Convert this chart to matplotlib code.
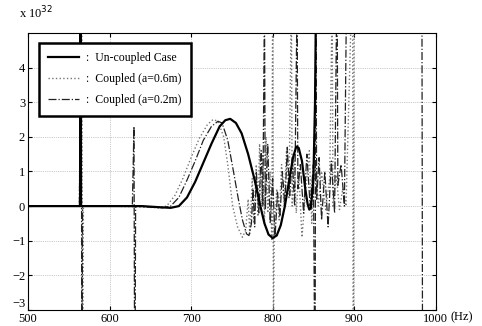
import matplotlib
matplotlib.use('Agg')
import matplotlib.pyplot as plt

plt.rcParams['font.family'] = ['Liberation Serif', 'DejaVu Serif']

# frequency (Hz) and response (x 1e32)
f_unc = [500, 560, 564, 564.5, 565, 600, 640, 660, 675, 685, 695, 705, 715, 725,
         735, 742, 748, 755, 762, 770, 778, 785, 790, 795, 800, 805, 810, 815,
         820, 825, 829, 832, 836, 840, 843, 845, 847, 850, 852, 854, 1000]
y_unc = [0, 0, 0, 7, 0, 0, 0, -0.03, -0.05, 0.0, 0.25, 0.7, 1.25, 1.8,
         2.3, 2.48, 2.52, 2.4, 2.1, 1.5, 0.75, 0.0, -0.5, -0.82, -0.92, -0.85, -0.55, 0.0,
         0.7, 1.4, 1.72, 1.68, 1.3, 0.5, 0.05, -0.1, -0.05, 0.8, 3, 8, 8]

f_a06 = [500, 563, 566, 567, 568, 600, 645, 660, 670, 680, 690, 700, 710, 720,
         727, 733, 740, 745, 751, 757, 763, 767, 770, 772, 775, 777, 780, 782,
         784, 786, 788, 790, 792, 794, 797, 799, 800, 801, 802, 805, 808, 811,
         814, 817, 820, 823, 824, 826, 829, 832, 836, 840, 845, 848, 852, 856,
         860, 865, 870, 873, 874, 878, 882, 886, 890, 898, 899, 900, 1000]
y_a06 = [0, 0, 7, -7, 0, 0, -0.03, -0.05, 0.0, 0.3, 0.8, 1.4, 1.95, 2.35,
         2.5, 2.45, 2.0, 1.2, 0.0, -0.6, -0.9, -0.7, 0.2, -0.8, 0.8, -0.5, 1.2, -0.3,
         1.8, 0.0, 1.5, -0.5, 2.0, -0.2, 1.0, -1.0, 6, -4, -0.8, 0.5, -0.4, 1.2,
         0.0, 1.6, 0.2, 6, 0.0, 1.5, -0.2, 1.0, -0.9, 0.3, 1.6, -0.5, 1.3, 0.0,
         1.0, -0.1, 0.8, 6, 0.0, 0.9, -0.1, 0.5, 0.0, 7, -7, 8, 8]

f_a02 = [500, 563, 565.5, 566, 567, 600, 628, 630, 631, 632, 650, 665, 675, 685,
         695, 705, 715, 725, 733, 738, 745, 752, 758, 763, 768, 771, 774, 776,
         778, 780, 783, 786, 788, 790, 791, 794, 797, 800, 803, 806, 809, 812,
         815, 818, 821, 824, 827, 830, 831, 834, 838, 842, 846, 850, 852, 853,
         854, 857, 860, 864, 868, 872, 876, 879, 880, 884, 888, 891, 983, 984, 1000]
y_a02 = [0, 0, 7, -7, 0, 0, 0, 2.3, -7, 0, -0.03, -0.05, 0.0, 0.25,
         0.75, 1.3, 1.9, 2.3, 2.45, 2.4, 1.9, 1.0, 0.2, -0.4, -0.8, -0.85, -0.5, 0.5,
         -0.6, 1.0, -0.2, 1.6, 0.0, 6, -0.1, 1.8, -0.5, 0.8, -0.9, 0.4, -0.3, 1.0,
         0.0, 1.7, 0.3, 1.4, 0.0, 6, 0.5, 1.2, -0.2, 1.5, 0.0, 1.2, -6, 7,
         0.2, 1.4, -0.4, 1.0, -0.6, 1.3, -0.2, 7, 0.6, 1.2, 0.0, 7, 7, -7, -7]

labels = [':  Un-coupled Case', ':  Coupled (a=0.6m)', ':  Coupled (a=0.2m)']
x_ticks = [500, 600, 700, 800, 900, 1000]
y_ticks = [-3, -2, -1, 0, 1, 2, 3, 4]

fig = plt.figure(figsize=(4.82, 3.26), dpi=100)
ax = fig.add_axes([0.058, 0.049, 0.846, 0.85])

ax.plot(f_a06, y_a06, color='#777777', linestyle=':', linewidth=1.0, label=labels[1])
ax.plot(f_a02, y_a02, color='#222222', linestyle='-.', linewidth=0.9, label=labels[2])
ax.plot(f_unc, y_unc, color='black', linestyle='-', linewidth=1.6, label=labels[0])

ax.set_xlim(500, 1000)
ax.set_ylim(-3, 5)
ax.set_xticks(x_ticks)
ax.set_yticks(y_ticks)
ax.tick_params(direction='in', labelsize=9, length=3, top=True, right=True, pad=2)
ax.grid(True, linestyle=':', color='#999999', linewidth=0.5)
for s in ax.spines.values():
    s.set_linewidth(0.8)
# the -3 label sits a little above its tick, clear of the 500 below
ax.get_yticklabels()[0].set_verticalalignment('bottom')

handles, labs = ax.get_legend_handles_labels()
order = [2, 0, 1]
leg = ax.legend([handles[i] for i in order], [labs[i] for i in order],
                loc='upper left', bbox_to_anchor=(0.012, 0.985), fontsize=8.5,
                handlelength=2.6, handletextpad=0.6, fancybox=False, framealpha=1,
                edgecolor='black', borderpad=0.8, labelspacing=0.75)
leg.get_frame().set_linewidth(1.8)

fig.text(0.04, 0.945, r'x 10$^{32}$', fontsize=9)
fig.text(0.935, 0.018, '(Hz)', fontsize=9)

fig.savefig('out.png', dpi=100)
